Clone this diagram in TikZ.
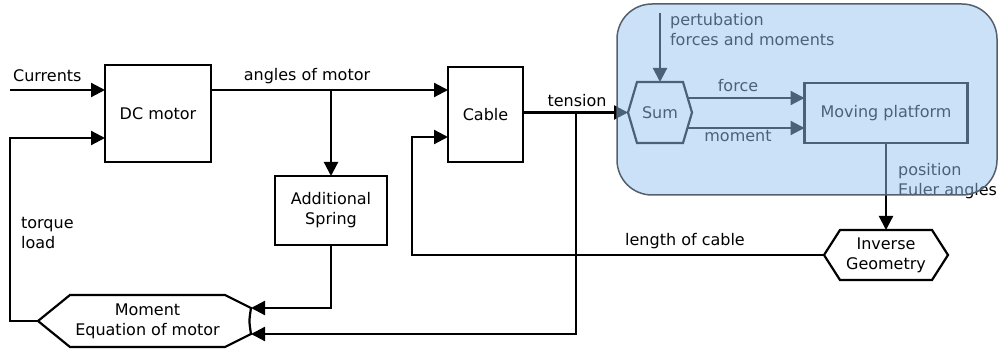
\documentclass[tikz,border=0pt]{standalone}
\usepackage{fontspec}
\setmainfont{DejaVu Sans}
\usetikzlibrary{arrows.meta,calc}
\definecolor{grpfill}{RGB}{150,195,240}
\definecolor{grpedge}{RGB}{85,95,110}
\begin{document}
\begin{tikzpicture}[x=1pt,y=-1pt,
  font=\fontsize{16}{20}\selectfont,
  line width=2.2pt,
  arr/.style={-{Triangle[length=14pt,width=14pt]}},
  blk/.style={draw, inner sep=0pt, outer sep=0pt, align=center},
  hexbody/.style={inner sep=0pt, outer sep=0pt, align=center},
  lbl/.style={inner sep=0pt, align=left},
  grp/.style={fill=grpfill, fill opacity=0.5, draw=grpedge, draw opacity=1, line width=1.5pt, rounded corners=35pt, inner sep=0pt}]
\useasboundingbox (0,0) rectangle (998,352);

% blocks
\node[blk, minimum width=106pt, minimum height=97pt] (dc) at (158,113.5) {DC motor};
\node[blk, minimum width=75pt, minimum height=95pt] (cable) at (485.5,114.5) {Cable};
\node[blk, minimum width=112pt, minimum height=69pt] (spring) at (331,210.5) {Additional\\Spring};
\node[blk, minimum width=163pt, minimum height=60pt] (plat) at (886,113) {Moving platform};

% hexagon-like nodes
\node[hexbody, minimum width=46pt, minimum height=61pt] (sum) at (660,112.5) {Sum};
\coordinate (stip) at ($(sum.west)+(-9,0)$);
\draw (stip) -- (sum.north west) -- (sum.north east) -- ($(sum.east)+(9,0)$) -- (sum.south east) -- (sum.south west) -- cycle;

\node[hexbody, minimum width=92pt, minimum height=50pt] (inv) at (886,255) {Inverse\\Geometry};
\coordinate (itip) at ($(inv.west)+(-16,0)$);
\draw (itip) -- (inv.north west) -- (inv.north east) -- ($(inv.east)+(16,0)$) -- (inv.south east) -- (inv.south west) -- cycle;

\node[hexbody, minimum width=155pt, minimum height=52pt] (mom) at (147.5,321) {Moment\\Equation of motor};
\coordinate (mtip) at ($(mom.west)+(-32,0)$);
\coordinate (mr1) at ($(mom.north east)+(26,13)$);
\coordinate (mr2) at ($(mom.south east)+(26,-13)$);
\draw (mtip) -- (mom.north west) -- (mom.north east) -- (mr1) .. controls ($(mom.east)+(24,0)$) .. (mr2) -- (mom.south east) -- (mom.south west) -- cycle;

% connectors
\coordinate (cin) at (10,90);
\draw[arr] (cin) -- (cin -| dc.west);
\node[lbl, anchor=base west] at (12,82) {Currents};

\draw[arr] (dc.east |- cin) -- (cable.west |- cin);
\node[lbl, anchor=base] at (307,81) {angles of motor};

\coordinate (b1) at (spring.north |- cin);
\draw[arr] (b1) -- (spring.north);
\draw[arr] (spring.south) |- (mr1);

\coordinate (dcin2) at ($(dc.west)+(0,24.5)$);
\draw[arr] (mtip) -| (cin |- dcin2) -- (dcin2);
\node[lbl, anchor=west] at (20,233) {torque\\load};

\draw[arr] (cable.east |- stip) -- (stip);
\node[lbl, anchor=base] at (577,107) {tension};
\coordinate (tb) at (576,112.5);
\draw[arr] (tb) |- (mr2);

\coordinate (cabin2) at ($(cable.west)+(0,22.5)$);
\coordinate (lx) at (412,255);
\draw[arr] (itip) -- (lx) |- (cabin2);
\node[lbl, anchor=center] at (685,241) {length of cable};

\coordinate (pt) at (sum.north |- 0,13);
\draw[arr] (pt) -- (sum.north);
\node[lbl, anchor=west] at (669,30) {pertubation\\forces and moments};

\coordinate (sf) at (688,98);
\coordinate (sm) at (688,128);
\draw[arr] (sf) -- (sf -| plat.west);
\draw[arr] (sm) -- (sm -| plat.west);
\node[lbl] at (738,86) {force};
\node[lbl] at (738,136) {moment};

\draw[arr] (plat.south) -- (inv.north);
\node[lbl, anchor=west] at (897,181) {position\\Euler angles};

% translucent group region
\node[grp, minimum width=380pt, minimum height=191pt] (group) at (807,99.5) {};
\end{tikzpicture}
\end{document}
